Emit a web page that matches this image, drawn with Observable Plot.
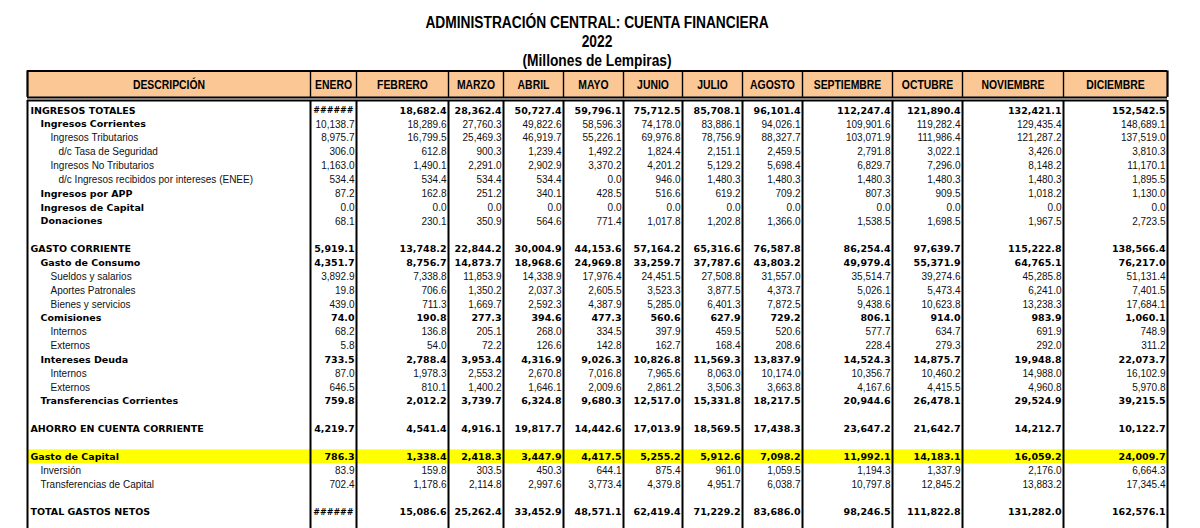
<!DOCTYPE html>
<html>
<head>
<meta charset="utf-8">
<script src="https://cdn.jsdelivr.net/npm/d3@7"></script>
<script src="https://cdn.jsdelivr.net/npm/@observablehq/plot@0.6"></script>
<style>
  html, body { margin: 0; padding: 0; background: #fff; }
  body { width: 1200px; height: 528px; overflow: hidden; position: relative; }
  #title { position: absolute; top: 13px; left: 0; width: 1194px; text-align: center;
           font-family: "Liberation Sans", Arial, sans-serif; font-weight: bold;
           font-size: 16px; line-height: 19px; color: #000;
           transform: scaleX(0.86); transform-origin: 597px 0; }
  #chart { position: absolute; top: 66px; left: 0; }
</style>
</head>
<body>
<div id="title">
  <div>ADMINISTRACIÓN CENTRAL: CUENTA FINANCIERA</div>
  <div>2022</div>
  <div>(Millones de Lempiras)</div>
</div>
<div id="chart"></div>
<script>
// ---------- DATA ----------
const headerDesc = "DESCRIPCIÓN";
const months = ["ENERO","FEBRERO","MARZO","ABRIL","MAYO","JUNIO","JULIO","AGOSTO","SEPTIEMBRE","OCTUBRE","NOVIEMBRE","DICIEMBRE"];

// null = cell shown as "######" (column too narrow in the original)
const ingresosTotales     = [null, 18682.4, 28362.4, 50727.4, 59796.1, 75712.5, 85708.1, 96101.4, 112247.4, 121890.4, 132421.1, 152542.5];
const ingresosCorrientes  = [10138.7, 18289.6, 27760.3, 49822.6, 58596.3, 74178.0, 83886.1, 94026.1, 109901.6, 119282.4, 129435.4, 148689.1];
const ingresosTributarios = [8975.7, 16799.5, 25469.3, 46919.7, 55226.1, 69976.8, 78756.9, 88327.7, 103071.9, 111986.4, 121287.2, 137519.0];
const tasaSeguridad       = [306.0, 612.8, 900.3, 1239.4, 1492.2, 1824.4, 2151.1, 2459.5, 2791.8, 3022.1, 3426.0, 3810.3];
const noTributarios       = [1163.0, 1490.1, 2291.0, 2902.9, 3370.2, 4201.2, 5129.2, 5698.4, 6829.7, 7296.0, 8148.2, 11170.1];
const interesesENEE       = [534.4, 534.4, 534.4, 534.4, 0.0, 946.0, 1480.3, 1480.3, 1480.3, 1480.3, 1480.3, 1895.5];
const ingresosAPP         = [87.2, 162.8, 251.2, 340.1, 428.5, 516.6, 619.2, 709.2, 807.3, 909.5, 1018.2, 1130.0];
const ingresosCapital     = [0.0, 0.0, 0.0, 0.0, 0.0, 0.0, 0.0, 0.0, 0.0, 0.0, 0.0, 0.0];
const donaciones          = [68.1, 230.1, 350.9, 564.6, 771.4, 1017.8, 1202.8, 1366.0, 1538.5, 1698.5, 1967.5, 2723.5];

const gastoCorriente      = [5919.1, 13748.2, 22844.2, 30004.9, 44153.6, 57164.2, 65316.6, 76587.8, 86254.4, 97639.7, 115222.8, 138566.4];
const gastoConsumo        = [4351.7, 8756.7, 14873.7, 18968.6, 24969.8, 33259.7, 37787.6, 43803.2, 49979.4, 55371.9, 64765.1, 76217.0];
const sueldos             = [3892.9, 7338.8, 11853.9, 14338.9, 17976.4, 24451.5, 27508.8, 31557.0, 35514.7, 39274.6, 45285.8, 51131.4];
const aportes             = [19.8, 706.6, 1350.2, 2037.3, 2605.5, 3523.3, 3877.5, 4373.7, 5026.1, 5473.4, 6241.0, 7401.5];
const bienes              = [439.0, 711.3, 1669.7, 2592.3, 4387.9, 5285.0, 6401.3, 7872.5, 9438.6, 10623.8, 13238.3, 17684.1];
const comisiones          = [74.0, 190.8, 277.3, 394.6, 477.3, 560.6, 627.9, 729.2, 806.1, 914.0, 983.9, 1060.1];
const comInternos         = [68.2, 136.8, 205.1, 268.0, 334.5, 397.9, 459.5, 520.6, 577.7, 634.7, 691.9, 748.9];
const comExternos         = [5.8, 54.0, 72.2, 126.6, 142.8, 162.7, 168.4, 208.6, 228.4, 279.3, 292.0, 311.2];
const interesesDeuda      = [733.5, 2788.4, 3953.4, 4316.9, 9026.3, 10826.8, 11569.3, 13837.9, 14524.3, 14875.7, 19948.8, 22073.7];
const intInternos         = [87.0, 1978.3, 2553.2, 2670.8, 7016.8, 7965.6, 8063.0, 10174.0, 10356.7, 10460.2, 14988.0, 16102.9];
const intExternos         = [646.5, 810.1, 1400.2, 1646.1, 2009.6, 2861.2, 3506.3, 3663.8, 4167.6, 4415.5, 4960.8, 5970.8];
const transfCorrientes    = [759.8, 2012.2, 3739.7, 6324.8, 9680.3, 12517.0, 15331.8, 18217.5, 20944.6, 26478.1, 29524.9, 39215.5];

const ahorro              = [4219.7, 4541.4, 4916.1, 19817.7, 14442.6, 17013.9, 18569.5, 17438.3, 23647.2, 21642.7, 14212.7, 10122.7];

const gastoCapital        = [786.3, 1338.4, 2418.3, 3447.9, 4417.5, 5255.2, 5912.6, 7098.2, 11992.1, 14183.1, 16059.2, 24009.7];
const inversion           = [83.9, 159.8, 303.5, 450.3, 644.1, 875.4, 961.0, 1059.5, 1194.3, 1337.9, 2176.0, 6664.3];
const transfCapital       = [702.4, 1178.6, 2114.8, 2997.6, 3773.4, 4379.8, 4951.7, 6038.7, 10797.8, 12845.2, 13883.2, 17345.4];

const totalGastos         = [null, 15086.6, 25262.4, 33452.9, 48571.1, 62419.4, 71229.2, 83686.0, 98246.5, 111822.8, 131282.0, 162576.1];

// ---------- ROW STRUCTURE (null = empty row) ----------
const rowSpec = [
  {label: "INGRESOS TOTALES", values: ingresosTotales, level: 0, bold: "both"},
  {label: "Ingresos Corrientes", values: ingresosCorrientes, level: 1, bold: "label"},
  {label: "Ingresos Tributarios", values: ingresosTributarios, level: 2, bold: "none"},
  {label: "d/c Tasa de Seguridad", values: tasaSeguridad, level: 3, bold: "none"},
  {label: "Ingresos No Tributarios", values: noTributarios, level: 2, bold: "none"},
  {label: "d/c Ingresos recibidos por intereses (ENEE)", values: interesesENEE, level: 3, bold: "none"},
  {label: "Ingresos por APP", values: ingresosAPP, level: 1, bold: "label"},
  {label: "Ingresos de Capital", values: ingresosCapital, level: 1, bold: "label"},
  {label: "Donaciones", values: donaciones, level: 1, bold: "label"},
  null,
  {label: "GASTO CORRIENTE", values: gastoCorriente, level: 0, bold: "both"},
  {label: "Gasto de Consumo", values: gastoConsumo, level: 1, bold: "both"},
  {label: "Sueldos y salarios", values: sueldos, level: 2, bold: "none"},
  {label: "Aportes Patronales", values: aportes, level: 2, bold: "none"},
  {label: "Bienes y servicios", values: bienes, level: 2, bold: "none"},
  {label: "Comisiones", values: comisiones, level: 1, bold: "both"},
  {label: "Internos", values: comInternos, level: 2, bold: "none"},
  {label: "Externos", values: comExternos, level: 2, bold: "none"},
  {label: "Intereses Deuda", values: interesesDeuda, level: 1, bold: "both"},
  {label: "Internos", values: intInternos, level: 2, bold: "none"},
  {label: "Externos", values: intExternos, level: 2, bold: "none"},
  {label: "Transferencias Corrientes", values: transfCorrientes, level: 1, bold: "both"},
  null,
  {label: "AHORRO EN CUENTA CORRIENTE", values: ahorro, level: 0, bold: "both"},
  null,
  {label: "Gasto de Capital", values: gastoCapital, level: 0, bold: "both", highlight: true},
  {label: "Inversión", values: inversion, level: 1, bold: "none"},
  {label: "Transferencias de Capital", values: transfCapital, level: 1, bold: "none"},
  null,
  {label: "TOTAL GASTOS NETOS", values: totalGastos, level: 0, bold: "both"}
];

// ---------- LAYOUT ----------
const colWidths = [283, 46, 92, 55, 60, 60, 59, 60, 60, 90, 70, 101, 104];
const edges = [0];
colWidths.forEach(w => edges.push(edges[edges.length - 1] + w));
const totalW = edges[edges.length - 1];
const indent = [3, 13, 23, 31];
const headerTop = -2.86, headerBottom = -0.95, headerMid = -1.88, bodyTop = -0.72, bodyEnd = 30.18;
const headerSquash = 0.8;

const rows = rowSpec.map((r, i) => r ? {...r, row: i} : null).filter(Boolean);
const cells = rows.flatMap(r => r.values.map((v, m) => ({
  row: r.row, col: m + 1, value: v, bold: r.bold === "both"
})));
const fmt = d3.format(",.1f");

const BOLD_FONT = "DejaVu Sans, Verdana, sans-serif";
const NORM_FONT = "Liberation Sans, Arial, sans-serif";
const HEAD_FONT = "Liberation Sans, Arial, sans-serif";

const headers = [headerDesc, ...months].map((t, i) => ({t, i}));

const chart = Plot.plot({
  width: 1200,
  height: 462,
  marginTop: 0, marginBottom: 0, marginLeft: 0, marginRight: 0,
  x: {type: "linear", domain: [0, totalW], range: [27, 1167], axis: null},
  y: {type: "linear", domain: [-3.18, 30.18], range: [0, 462], axis: null},
  style: {background: "transparent", overflow: "visible"},
  marks: [
    // header band
    Plot.rect([0], {x1: () => 0, x2: () => totalW, y1: () => headerTop, y2: () => headerBottom, fill: "#fac795"}),
    // highlighted row
    Plot.rect(rows.filter(r => r.highlight), {x1: () => 0, x2: () => totalW, y1: r => r.row - 0.5, y2: r => r.row + 0.5, fill: "#ffff00"}),
    // header borders
    Plot.ruleY([headerTop, headerBottom], {x1: () => 0, x2: () => totalW, stroke: "#000", strokeWidth: 2}),
    Plot.ruleX(edges, {y1: () => headerTop, y2: () => headerBottom, stroke: "#000",
      strokeWidth: (d, i) => (i === 0 || i === edges.length - 1) ? 2.2 : 1.4}),
    // body borders
    Plot.ruleY([bodyTop], {x1: () => 0, x2: () => totalW, stroke: "#000", strokeWidth: 2}),
    Plot.ruleX(edges, {y1: () => bodyTop, y2: () => bodyEnd, stroke: "#000", strokeWidth: 2}),
    // header labels
    Plot.text(headers, {x: d => (edges[d.i] + edges[d.i + 1]) / 2, y: () => headerMid, text: "t",
      fontFamily: HEAD_FONT, fontWeight: "bold", fontSize: 13, fill: "#000"}),
    // row labels
    Plot.text(rows.filter(r => r.bold !== "none"), {x: r => indent[r.level], y: "row", text: "label",
      textAnchor: "start", fontFamily: BOLD_FONT, fontWeight: "bold", fontSize: 9.5, fill: "#000"}),
    Plot.text(rows.filter(r => r.bold === "none"), {x: r => indent[r.level], y: "row", text: "label",
      textAnchor: "start", fontFamily: NORM_FONT, fontSize: 10, fill: "#111"}),
    // values
    Plot.text(cells.filter(c => c.bold && c.value != null), {x: c => edges[c.col + 1] - 2, y: "row",
      text: c => fmt(c.value), textAnchor: "end", fontFamily: BOLD_FONT, fontWeight: "bold", fontSize: 9.5, fill: "#000"}),
    Plot.text(cells.filter(c => !c.bold && c.value != null), {x: c => edges[c.col + 1] - 2, y: "row",
      text: c => fmt(c.value), textAnchor: "end", fontFamily: NORM_FONT, fontSize: 10, fill: "#111"}),
    Plot.text(cells.filter(c => c.value == null), {x: c => edges[c.col + 1] - 3, y: "row",
      text: () => "######", textAnchor: "end", fontFamily: BOLD_FONT, fontWeight: "bold", fontSize: 8, fill: "#000"})
  ]
});
document.getElementById("chart").appendChild(chart);

// condense the header labels horizontally (narrow bold look of the original)
const headerSet = new Set(headers.map(h => h.t));
chart.querySelectorAll("text").forEach(t => {
  if (!headerSet.has(t.textContent)) return;
  const L = t.getComputedTextLength();
  if (L > 0) {
    t.setAttribute("textLength", (L * headerSquash).toFixed(1));
    t.setAttribute("lengthAdjust", "spacingAndGlyphs");
  }
});
</script>
</body>
</html>
